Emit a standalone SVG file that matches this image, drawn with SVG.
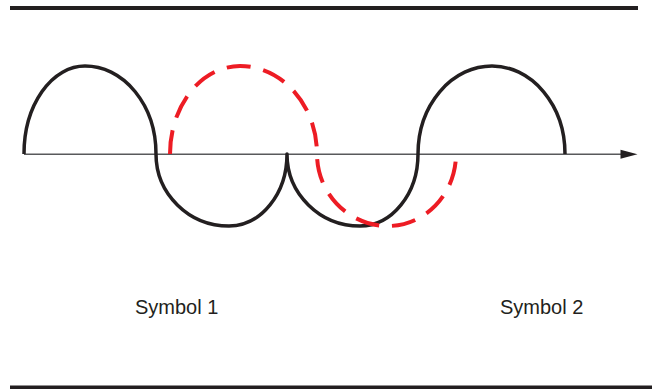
<svg xmlns="http://www.w3.org/2000/svg" width="652" height="389" viewBox="0 0 652 389">
  <style>
    .rule { stroke: #231f20; stroke-width: 4; fill: none; }
    .axis { stroke: #58595b; stroke-width: 1.6; fill: none; }
    .wave { stroke: #231f20; stroke-width: 3.5; fill: none; stroke-linejoin: round; }
    .dash { stroke: #ed1c24; stroke-width: 4; fill: none; stroke-dasharray: 24 13; }
    .label { font-family: "Liberation Sans", Arial, sans-serif; font-size: 20px; fill: #231f20; }
  </style>
  <g id="frame">
    <line class="rule" x1="10" y1="8" x2="638" y2="8"/>
    <line class="rule" x1="10" y1="387.5" x2="652" y2="387.5"/>
  </g>
  <g id="axis">
    <line class="axis" x1="24" y1="154.3" x2="624" y2="154.3"/>
    <polygon points="620.5,149.8 637.5,154.3 620.5,158.8" fill="#231f20"/>
  </g>
  <g id="signal">
    <path class="wave" d="M24,154 A61,88 0 0 1 85,66 A71,88 0 0 1 156,154 A73,72 0 0 0 229,226 A58,72 0 0 0 287,154 A73,72 0 0 0 360,226 A58,72 0 0 0 418,154 A74,88 0 0 1 492,66 A73,88 0 0 1 565,154"/>
  </g>
  <g id="shifted">
    <path class="dash" d="M170,154 A70,88 0 0 1 240,66 A77,88 0 0 1 317,154 A71,72 0 0 0 388,226 A68,72 0 0 0 456,154"/>
  </g>
  <g id="labels">
    <text class="label" x="135" y="314">Symbol 1</text>
    <text class="label" x="500" y="314">Symbol 2</text>
  </g>
</svg>
